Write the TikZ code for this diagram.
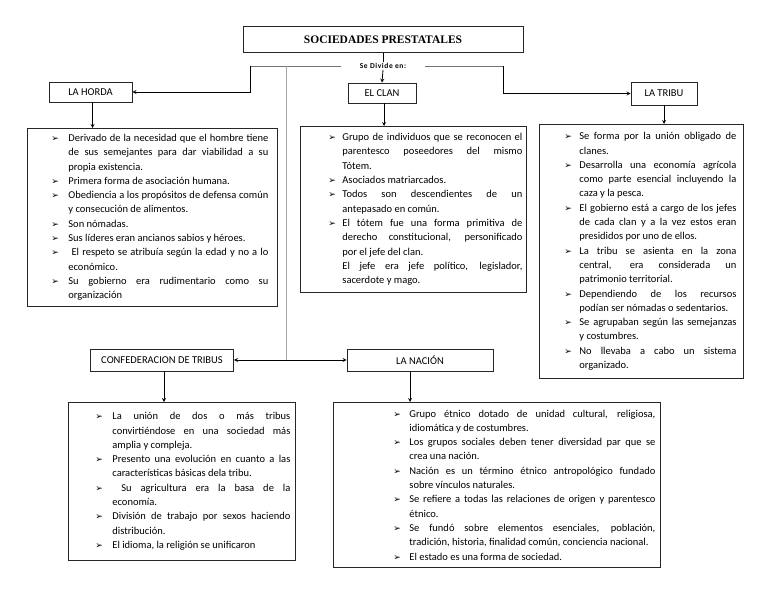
\documentclass[tikz,border=0pt]{standalone}
\usepackage{fontspec}
\setmainfont{Carlito}
\newfontfamily\titlefont{Liberation Serif}
\newfontfamily\bulletfont{DejaVu Sans}
\usepackage{tikz}
\usetikzlibrary{shapes,arrows,positioning}

\newlength{\hng}
\newcommand{\bul}{{\bulletfont\fontsize{9}{9}\selectfont ➢}}
\newcommand{\itm}{\par\noindent\hangindent=\hng\hangafter=1\makebox[\hng][l]{\bul}}
\newcommand{\noitm}{\par\noindent\hangindent=\hng\hangafter=0}
% ancho, margen izq., margen der., sangria
\newcommand{\boxtext}[5]{\parbox{#1pt}{\leftskip=#2pt\rightskip=#3pt\setlength{\hng}{#4pt}%
  \parfillskip=0pt plus 1fil\parindent=0pt\hyphenpenalty=10000\tolerance=10000%
  \baselineskip=14.3pt #5\par}}

\begin{document}
\begin{tikzpicture}[
    x=1pt, y=-1pt,
    lblbox/.style={draw=black!85, line width=0.8pt, inner sep=0pt, font=\fontsize{10.5}{12}\selectfont},
    txtbox/.style={draw=black!85, line width=0.8pt, inner xsep=0pt, inner ysep=0pt, anchor=north west,
      font=\fontsize{10.5}{14.3}\selectfont},
    myedge/.style={->, line width=0.8pt, >=stealth},
    topline/.style={line width=0.8pt, draw=black!55},
    stemline/.style={line width=1pt, draw=black!35}
]
\fill[white] (0,0) rectangle (768,594);
\useasboundingbox (0,0) rectangle (768,594);

% encabezado
\node[lblbox, minimum width=280pt, minimum height=26pt, font=\titlefont\bfseries\fontsize{11.5}{13}\selectfont] (title) at (383,39.5) {SOCIEDADES PRESTATALES};
\node[inner xsep=19pt, inner ysep=1pt, font=\bfseries\fontsize{7.5}{8}\selectfont\addfontfeature{LetterSpace=8}] (divide) at (383,66) {Se Divide en:};

\node[lblbox, minimum width=83pt, minimum height=20pt] (horda) at (90.5,92) {LA HORDA};
\node[lblbox, minimum width=68pt, minimum height=20pt] (clan) at (382,93) {EL CLAN};
\node[lblbox, minimum width=66pt, minimum height=23pt] (tribu) at (664,93.5) {LA TRIBU};
\node[lblbox, minimum width=143pt, minimum height=22pt] (confed) at (162,360) {CONFEDERACION DE TRIBUS};
\node[lblbox, minimum width=146pt, minimum height=22pt] (nacion) at (420,360) {LA NACIÓN};

% cuadros de texto
\node[txtbox, minimum height=178pt] (hordatxt) at (27,128) {\boxtext{250}{24}{9}{17}{%
\itm Derivado de la necesidad que el hombre tiene\linebreak de sus semejantes para dar viabilidad a su\linebreak propia existencia.
\itm Primera forma de asociación humana.
\itm Obediencia a los propósitos de defensa común\linebreak y consecución de alimentos.
\itm Son nómadas.
\itm Sus líderes eran ancianos sabios y héroes.
\itm\ El respeto se atribuía según la edad y no a lo\linebreak económico.
\itm Su gobierno era rudimentario como su\linebreak organización}};

\node[txtbox, minimum height=166pt] (clantxt) at (300,126) {\boxtext{226}{28}{4}{14}{%
\itm Grupo de individuos que se reconocen el\linebreak parentesco poseedores del mismo\linebreak Tótem.
\itm Asociados matriarcados.
\itm Todos son descendientes de un\linebreak antepasado en común.
\itm El tótem fue una forma primitiva de\linebreak derecho constitucional, personificado\linebreak por el jefe del clan.
\noitm El jefe era jefe político, legislador,\linebreak sacerdote y mago.}};

\node[txtbox, minimum height=254pt] (tributxt) at (539,124) {\boxtext{204}{25}{7}{15}{%
\itm Se forma por la unión obligado de\linebreak clanes.
\itm Desarrolla una economía agrícola\linebreak como parte esencial incluyendo la\linebreak caza y la pesca.
\itm El gobierno está a cargo de los jefes\linebreak de cada clan y a la vez estos eran\linebreak presididos por uno de ellos.
\itm La tribu se asienta en la zona\linebreak central, era considerada un\linebreak patrimonio territorial.
\itm Dependiendo de los recursos\linebreak podían ser nómadas o sedentarios.
\itm Se agrupaban según las semejanzas\linebreak y costumbres.
\itm No llevaba a cabo un sistema\linebreak organizado.}};

\node[txtbox, minimum height=158pt] (confedtxt) at (68,402) {\boxtext{227}{27}{5}{17}{%
\itm La unión de dos o más tribus\linebreak convirtiéndose en una sociedad más\linebreak amplia y compleja.
\itm Presento una evolución en cuanto a las\linebreak características básicas dela tribu.
\itm\ Su agricultura era la basa de la\linebreak economía.
\itm División de trabajo por sexos haciendo\linebreak distribución.
\itm El idioma, la religión se unificaron}};

\node[txtbox, minimum height=165pt] (naciontxt) at (333,402) {\boxtext{327}{60}{5}{16}{%
\itm Grupo étnico dotado de unidad cultural, religiosa,\linebreak idiomática y de costumbres.
\itm Los grupos sociales deben tener diversidad par que se\linebreak crea una nación.
\itm Nación es un término étnico antropológico fundado\linebreak sobre vínculos naturales.
\itm Se refiere a todas las relaciones de origen y parentesco\linebreak étnico.
\itm Se fundó sobre elementos esenciales, población,\linebreak tradición, historia, finalidad común, conciencia nacional.
\itm El estado es una forma de sociedad.}};

% conectores
\coordinate (lft) at (250,66);
\coordinate (rgt) at (503,66);
\coordinate (stem) at (286,66);
\coordinate (hub) at (286,360);

\draw[line width=0.8pt] (title.south) -- (divide.north);
\draw[myedge] (divide.south) -- (clan.north);
\draw[topline] (divide.west) -- (lft);
\draw[topline] (divide.east) -- (rgt);
\draw[myedge] (lft) |- (horda.east);
\draw[myedge] (rgt) |- (tribu.west);
\draw[stemline] (stem) -- (hub);
\draw[myedge] (hub) -- (confed.east);
\draw[myedge] (hub) -- (nacion.west);

\draw[myedge] ([xshift=2pt]horda.south) -- ([xshift=2pt]horda.south |- hordatxt.north);
\draw[myedge] ([xshift=2pt]clan.south) -- ([xshift=2pt]clan.south |- clantxt.north);
\draw[myedge] (tribu.south) -- (tribu.south |- tributxt.north);
\draw[myedge] ([xshift=2pt]confed.south) -- ([xshift=2pt]confed.south |- confedtxt.north);
\draw[myedge] ([xshift=-10pt]nacion.south) -- ([xshift=-10pt]nacion.south |- naciontxt.north);
\end{tikzpicture}
\end{document}
